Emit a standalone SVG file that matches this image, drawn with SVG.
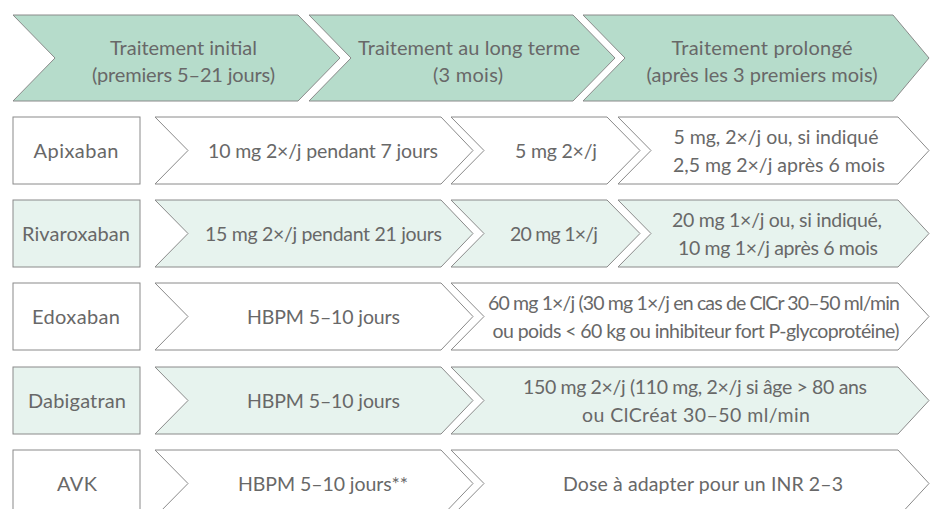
<svg xmlns="http://www.w3.org/2000/svg" width="930" height="509" viewBox="0 0 930 509">
<style>
.hd{fill:#b6dccb;stroke:#8a8a8a;stroke-width:1}
.w{fill:#ffffff;stroke:#8a8a8a;stroke-width:1}
.g{fill:#e7f3ee;stroke:#8a8a8a;stroke-width:1}
text{font-family:Lato,"Liberation Sans",sans-serif;font-size:20px;fill:#686868;text-anchor:middle}
.s{font-size:19.5px}
</style>
<rect width="930" height="509" fill="#ffffff"/>
<g id="header">
<g id="h1"><path class="hd" d="M13,15 H298 L340,58 L298,101 H13 L55,58 Z"/><text x="183.5" y="55" textLength="147">Traitement initial</text><text x="183.5" y="82" textLength="183">(premiers 5–21 jours)</text></g>
<g id="h2"><path class="hd" d="M309,15 H573 L615,58 L573,101 H309 L351,58 Z"/><text x="469" y="55" textLength="222">Traitement au long terme</text><text x="468" y="82" textLength="70">(3 mois)</text></g>
<g id="h3"><path class="hd" d="M583,15 H893 L929,58 L893,101 H583 L625,58 Z"/><text x="762" y="55" textLength="181">Traitement prolongé</text><text x="762" y="82" textLength="231">(après les 3 premiers mois)</text></g>
</g>
<g id="apixaban">
<rect class="w" x="13" y="117" width="127" height="67"/><text x="76" y="158" textLength="85">Apixaban</text>
<path class="w" d="M155,117 H441 L473,150.5 L441,184 H155 L188,150.5 Z"/><text class="s" x="323" y="158" textLength="230">10 mg 2×/j pendant 7 jours</text>
<path class="w" d="M451,117 H607 L640,150.5 L607,184 H451 L484,150.5 Z"/><text class="s" x="556" y="158" textLength="82">5 mg 2×/j</text>
<path class="w" d="M618,117 H898 L929,150.5 L898,184 H618 L651,150.5 Z"/><text class="s" x="776" y="144" textLength="205">5 mg, 2×/j ou, si indiqué</text><text class="s" x="779" y="172" textLength="212">2,5 mg 2×/j après 6 mois</text>
</g>
<g id="rivaroxaban">
<rect class="g" x="13" y="200" width="127" height="67"/><text x="76" y="241" textLength="108">Rivaroxaban</text>
<path class="g" d="M155,200 H441 L473,233.5 L441,267 H155 L188,233.5 Z"/><text class="s" x="323.5" y="241" textLength="237">15 mg 2×/j pendant 21 jours</text>
<path class="g" d="M451,200 H607 L640,233.5 L607,267 H451 L484,233.5 Z"/><text class="s" x="554" y="241" textLength="88">20 mg 1×/j</text>
<path class="g" d="M618,200 H898 L929,233.5 L898,267 H618 L651,233.5 Z"/><text class="s" x="777" y="227" textLength="210">20 mg 1×/j ou, si indiqué,</text><text class="s" x="778" y="255" textLength="200">10 mg 1×/j après 6 mois</text>
</g>
<g id="edoxaban">
<rect class="w" x="13" y="283" width="127" height="67"/><text x="76" y="324" textLength="88">Edoxaban</text>
<path class="w" d="M155,283 H441 L473,316.5 L441,350 H155 L188,316.5 Z"/><text class="s" x="323.5" y="324" textLength="153">HBPM 5–10 jours</text>
<path class="w" d="M451,283 H898 L929,316.5 L898,350 H451 L484,316.5 Z"/><text class="s" x="694" y="310" textLength="412">60 mg 1×/j (30 mg 1×/j en cas de ClCr 30–50 ml/min</text><text class="s" x="696" y="338" textLength="407">ou poids &lt; 60 kg ou inhibiteur fort P-glycoprotéine)</text>
</g>
<g id="dabigatran">
<rect class="g" x="13" y="367" width="127" height="67"/><text x="77" y="408" textLength="98">Dabigatran</text>
<path class="g" d="M155,367 H441 L473,400.5 L441,434 H155 L188,400.5 Z"/><text class="s" x="323.5" y="408" textLength="153">HBPM 5–10 jours</text>
<path class="g" d="M451,367 H898 L929,400.5 L898,434 H451 L484,400.5 Z"/><text class="s" x="695" y="394" textLength="344">150 mg 2×/j (110 mg, 2×/j si âge &gt; 80 ans</text><text class="s" x="696" y="422" textLength="228">ou ClCréat 30–50 ml/min</text>
</g>
<g id="avk">
<rect class="w" x="13" y="450" width="127" height="67"/><text x="77" y="491" textLength="40">AVK</text>
<path class="w" d="M155,450 H441 L473,483.5 L441,517 H155 L188,483.5 Z"/><text class="s" x="323" y="491" textLength="170">HBPM 5–10 jours**</text>
<path class="w" d="M451,450 H898 L929,483.5 L898,517 H451 L484,483.5 Z"/><text class="s" x="703" y="491" textLength="280">Dose à adapter pour un INR 2–3</text>
</g>
<g id="connectors"/>
</svg>
